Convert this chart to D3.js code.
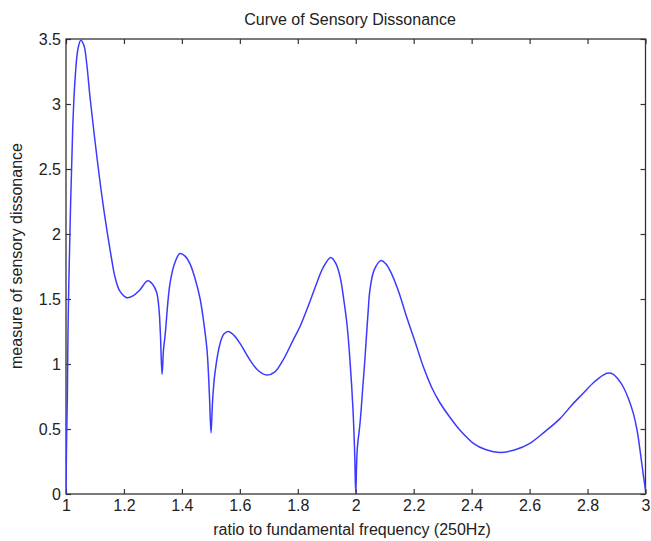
<!DOCTYPE html>
<html>
<head>
<meta charset="utf-8">
<script src="https://cdn.jsdelivr.net/npm/d3@7"></script>
<style>
  body { margin: 0; background: #fff; }
  text { font-family: "Liberation Sans", Arial, sans-serif; fill: #222; }
</style>
</head>
<body>
<div id="chart"></div>
<script>
// 读图得到的曲线点 (ratio -> dissonance)
const ratio = [1.000, 1.002, 1.0045, 1.007, 1.010, 1.023, 1.031, 1.041, 1.051, 1.062, 1.072, 1.083,
  1.109, 1.131, 1.158, 1.169, 1.186, 1.210, 1.235, 1.255, 1.282, 1.300, 1.313, 1.321, 1.326, 1.3315,
  1.3365, 1.342, 1.359, 1.376, 1.393, 1.411, 1.428, 1.445, 1.463, 1.476, 1.487, 1.495, 1.5005, 1.506,
  1.514, 1.532, 1.545, 1.560, 1.580, 1.600, 1.635, 1.663, 1.693, 1.721, 1.749, 1.783, 1.808, 1.835,
  1.865, 1.887, 1.914, 1.932, 1.946, 1.959, 1.970, 1.980, 1.9905, 1.9965, 2.000, 2.005, 2.015, 2.025,
  2.032, 2.042, 2.049, 2.063, 2.086, 2.104, 2.118, 2.146, 2.176, 2.205, 2.233, 2.263, 2.291, 2.325,
  2.360, 2.406, 2.450, 2.498, 2.550, 2.601, 2.653, 2.705, 2.746, 2.785, 2.822, 2.854, 2.872, 2.889,
  2.905, 2.923, 2.940, 2.958, 2.971, 2.981, 2.991, 3.000];
const dissonance = [0.00, 0.42, 0.72, 1.26, 1.65, 2.80, 3.18, 3.42, 3.49, 3.45, 3.30, 3.05,
  2.55, 2.18, 1.80, 1.67, 1.56, 1.51, 1.53, 1.57, 1.64, 1.61, 1.55, 1.42, 1.22, 0.92,
  1.11, 1.22, 1.62, 1.78, 1.85, 1.83, 1.77, 1.66, 1.50, 1.31, 1.10, 0.76, 0.47, 0.72,
  0.93, 1.16, 1.23, 1.25, 1.22, 1.16, 1.03, 0.95, 0.915, 0.94, 1.03, 1.18, 1.29, 1.44,
  1.62, 1.74, 1.82, 1.77, 1.67, 1.49, 1.30, 1.03, 0.65, 0.30, 0.00, 0.34, 0.55, 0.84,
  1.05, 1.38, 1.57, 1.72, 1.795, 1.77, 1.72, 1.57, 1.36, 1.17, 0.98, 0.815, 0.70, 0.59,
  0.49, 0.39, 0.34, 0.32, 0.34, 0.39, 0.48, 0.58, 0.685, 0.775, 0.86, 0.915, 0.93, 0.92,
  0.885, 0.825, 0.74, 0.62, 0.49, 0.34, 0.17, 0.03];
const xTicks = [1, 1.2, 1.4, 1.6, 1.8, 2, 2.2, 2.4, 2.6, 2.8, 3];
const yTicks = [0, 0.5, 1, 1.5, 2, 2.5, 3, 3.5];

const W = 651, H = 541;
const plotL = 66, plotR = 645.5, plotT = 39, plotB = 494;

const svg = d3.select('#chart').append('svg').attr('width', W).attr('height', H);

const x = d3.scaleLinear().domain([1, 3]).range([plotL, plotR]);
const y = d3.scaleLinear().domain([0, 3.5]).range([plotB, plotT]);

const fmt = d => String(d);

// 坐标轴，刻度朝内
const gx = svg.append('g').attr('transform', `translate(0,${plotB})`)
  .call(d3.axisBottom(x).tickValues(xTicks).tickFormat(fmt).tickSizeInner(-5).tickSizeOuter(0).tickPadding(6));
const gxt = svg.append('g').attr('transform', `translate(0,${plotT})`)
  .call(d3.axisTop(x).tickValues(xTicks).tickFormat('').tickSizeInner(-5).tickSizeOuter(0));
const gy = svg.append('g').attr('transform', `translate(${plotL},0)`)
  .call(d3.axisLeft(y).tickValues(yTicks).tickFormat(fmt).tickSizeInner(-5).tickSizeOuter(0).tickPadding(5));
const gyr = svg.append('g').attr('transform', `translate(${plotR},0)`)
  .call(d3.axisRight(y).tickValues(yTicks).tickFormat('').tickSizeInner(-5).tickSizeOuter(0));

[gx, gxt, gy, gyr].forEach(g => {
  g.select('.domain').remove();
  g.selectAll('line').attr('stroke', '#333').attr('stroke-width', 1.2);
  g.selectAll('text').attr('font-size', 16).attr('fill', '#222')
    .style('font-family', '"Liberation Sans", Arial, sans-serif');
});

svg.append('rect').attr('x', plotL).attr('y', plotT)
  .attr('width', plotR - plotL).attr('height', plotB - plotT)
  .attr('fill', 'none').attr('stroke', '#333').attr('stroke-width', 1.3);

// 曲线
svg.append('defs').append('clipPath').attr('id', 'plotClip')
  .append('rect').attr('x', plotL).attr('y', plotT - 1).attr('width', plotR - plotL + 1).attr('height', plotB - plotT + 2);

const pts = ratio.map((r, i) => [r, dissonance[i]]);
const line = d3.line().x(d => x(d[0])).y(d => y(d[1])).curve(d3.curveCatmullRom.alpha(0.5));

svg.append('path').datum(pts)
  .attr('clip-path', 'url(#plotClip)')
  .attr('d', line)
  .attr('fill', 'none')
  .attr('stroke', '#3b3bff')
  .attr('stroke-width', 1.5);

// 标题和轴标签
svg.append('text').attr('x', 350).attr('y', 25).attr('text-anchor', 'middle')
  .attr('font-size', 16).text('Curve of Sensory Dissonance');
svg.append('text').attr('x', 352).attr('y', 535).attr('text-anchor', 'middle')
  .attr('font-size', 16).text('ratio to fundamental frequency (250Hz)');
svg.append('text').attr('transform', 'translate(22,256) rotate(-90)').attr('text-anchor', 'middle')
  .attr('font-size', 16).text('measure of sensory dissonance');
</script>
</body>
</html>
